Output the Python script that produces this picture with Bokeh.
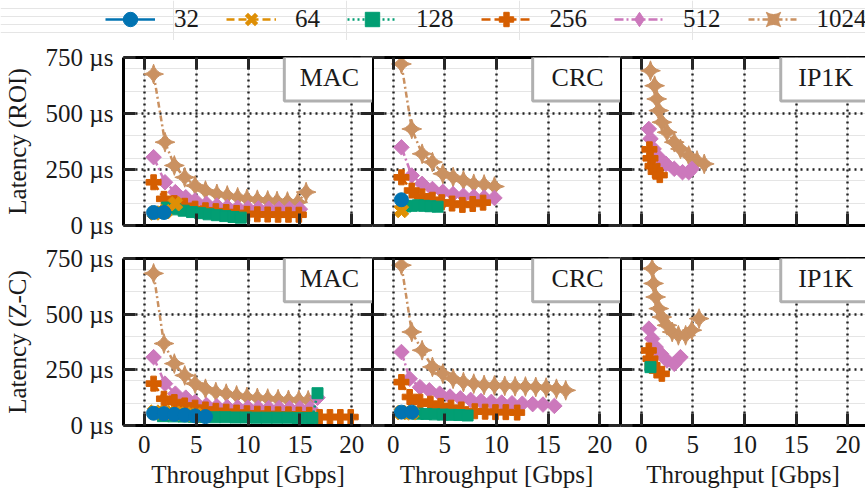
import math
from bokeh.plotting import figure
from bokeh.layouts import column, row
from bokeh.models import (LinearAxis, FixedTicker, PrintfTickFormatter, CustomJSTickFormatter,
                          Range1d, Legend, LegendItem, BoxAnnotation, Label, Grid, ColumnDataSource)
from bokeh.embed import file_html
from bokeh.resources import INLINE

# ---------------- data ----------------
series_names = ["32", "64", "128", "256", "512", "1024"]
x_ticks = [0, 5, 10, 15, 20]
y_ticks = [0, 250, 500, 750]
row_titles = ["Latency (ROI)", "Latency (Z-C)"]
panel_names = ["MAC", "CRC", "IP1K"]
x_title = "Throughput [Gbps]"

# ROI / MAC
roi_mac_x_32 = [0.9, 1.9]
roi_mac_y_32 = [58, 58]
roi_mac_x_64 = [1.0, 2.0, 3.0]
roi_mac_y_64 = [56, 62, 97]
roi_mac_x_128 = [2.2, 3.0, 3.8, 4.6, 5.4, 6.2, 7.0, 7.8, 8.6, 9.3]
roi_mac_y_128 = [80, 72, 66, 60, 55, 50, 46, 42, 38, 35]
roi_mac_x_256 = [0.9, 1.9, 2.9, 3.9, 4.9, 5.9, 6.9, 7.9, 8.9, 9.9, 10.9, 11.9, 12.9, 13.9, 14.9]
roi_mac_y_256 = [193, 119, 100, 88, 75, 68, 64, 60, 56, 52, 50, 49, 48, 48, 48]
roi_mac_x_512 = [0.9, 2.0, 3.0, 4.0, 4.9, 6.0, 7.0, 8.0, 9.0, 10.0, 11.0, 12.0, 13.0, 14.0, 15.0]
roi_mac_y_512 = [305, 193, 149, 126, 112, 97, 89, 82, 79, 77, 76, 75, 74, 74, 73]
roi_mac_x_1024 = [0.9, 2.0, 2.9, 3.9, 4.9, 5.9, 7.0, 8.0, 9.0, 9.9, 10.9, 11.9, 12.8, 13.8, 14.8, 15.6]
roi_mac_y_1024 = [676, 372, 268, 215, 178, 156, 141, 134, 126, 119, 115, 112, 109, 107, 104, 149]

# ROI / CRC
roi_crc_x_32 = [0.8]
roi_crc_y_32 = [115]
roi_crc_x_64 = [0.8]
roi_crc_y_64 = [67]
roi_crc_x_128 = [1.2, 1.8, 2.4, 3.0, 3.6, 4.3]
roi_crc_y_128 = [85, 88, 90, 88, 86, 84]
roi_crc_x_256 = [0.8, 1.8, 2.8, 3.8, 4.7, 5.7, 6.7, 7.7, 8.7]
roi_crc_y_256 = [215, 156, 130, 115, 104, 98, 92, 96, 102]
roi_crc_x_512 = [0.8, 1.8, 2.8, 3.8, 4.8, 5.8, 6.8, 7.8, 8.8, 9.8]
roi_crc_y_512 = [349, 223, 186, 163, 150, 140, 133, 128, 125, 123]
roi_crc_x_1024 = [0.8, 1.8, 2.8, 3.8, 4.8, 5.8, 6.8, 7.8, 8.8, 9.8]
roi_crc_y_1024 = [721, 431, 320, 283, 231, 216, 201, 186, 183, 174]

# ROI / IP1K
roi_ip_x_256 = [0.8, 0.9, 1.1, 1.4, 1.8]
roi_ip_y_256 = [340, 300, 265, 240, 225]
roi_ip_x_512 = [0.74, 0.9, 1.2, 1.7, 2.4, 3.2, 4.0, 4.6, 4.9]
roi_ip_y_512 = [431, 387, 342, 305, 275, 253, 238, 238, 253]
roi_ip_x_1024 = [0.9, 1.3, 1.5, 1.7, 2.0, 2.5, 3.2, 3.8, 4.6, 5.4, 6.1]
roi_ip_y_1024 = [691, 624, 565, 513, 461, 416, 372, 342, 312, 290, 275]

# Z-C / MAC
zc_mac_x_32 = [0.9, 1.9, 2.9, 3.9, 4.9, 5.9]
zc_mac_y_32 = [55, 53, 50, 47, 43, 40]
zc_mac_x_64 = [1.0, 2.0, 3.0, 4.0, 5.0]
zc_mac_y_64 = [60, 58, 55, 51, 47]
zc_mac_x_128 = [1.8, 2.8, 3.8, 4.8, 5.8, 6.8, 7.8, 8.8, 9.8, 10.8, 11.8, 12.8, 13.8, 14.8, 15.8, 16.2, 16.7]
zc_mac_y_128 = [42, 41, 40, 39, 38, 37, 37, 36, 36, 35, 35, 35, 35, 34, 34, 34, 145]
zc_mac_x_256 = [0.9, 1.9, 2.9, 3.9, 4.9, 5.9, 6.9, 7.9, 8.9, 9.9, 10.9, 11.9, 12.9, 13.9, 14.9, 15.9,
                16.9, 17.9, 18.9, 19.9]
zc_mac_y_256 = [188, 120, 105, 90, 80, 72, 66, 62, 58, 55, 53, 52, 50, 50, 49, 48, 38, 38, 38, 38]
zc_mac_x_512 = [0.9, 2.0, 3.0, 4.0, 4.9, 6.0, 7.0, 8.0, 9.0, 10.0, 11.0, 12.0, 13.0, 14.0, 15.0, 16.0, 16.7]
zc_mac_y_512 = [307, 188, 143, 125, 105, 92, 86, 83, 81, 80, 79, 78, 78, 77, 77, 77, 125]
zc_mac_x_1024 = [0.9, 1.9, 2.9, 3.9, 4.9, 5.9, 6.9, 7.9, 8.9, 9.9, 10.9, 11.9, 12.9, 13.9, 14.9, 15.8]
zc_mac_y_1024 = [683, 368, 278, 225, 188, 165, 150, 143, 135, 128, 124, 121, 118, 115, 115, 113]

# Z-C / CRC
zc_crc_x_32 = [0.8, 1.8]
zc_crc_y_32 = [60, 60]
zc_crc_x_64 = [0.8, 1.8]
zc_crc_y_64 = [58, 57]
zc_crc_x_128 = [1.6, 2.4, 3.2, 4.0, 4.8, 5.6, 6.4, 7.2]
zc_crc_y_128 = [55, 53, 52, 50, 49, 48, 47, 45]
zc_crc_x_256 = [0.8, 1.6, 2.6, 3.6, 4.6, 5.6, 6.6, 7.9, 8.9, 9.9, 10.9, 12.0]
zc_crc_y_256 = [195, 128, 107, 98, 88, 80, 72, 64, 62, 60, 60, 58]
zc_crc_x_512 = [0.8, 1.6, 2.6, 3.5, 4.5, 5.5, 6.5, 7.5, 8.5, 9.5, 10.5, 11.5, 12.5, 13.5, 14.5, 15.6]
zc_crc_y_512 = [330, 210, 172, 158, 143, 130, 122, 115, 110, 106, 103, 100, 98, 96, 94, 88]
zc_crc_x_1024 = [0.8, 1.8, 2.8, 3.8, 4.8, 5.8, 6.8, 7.8, 8.8, 9.8, 10.8, 11.8, 12.8, 13.8, 14.8, 15.8, 16.7]
zc_crc_y_1024 = [720, 420, 338, 263, 233, 210, 195, 188, 182, 180, 178, 176, 175, 173, 170, 165, 158]

# Z-C / IP1K
zc_ip_x_128 = [0.9]
zc_ip_y_128 = [262]
zc_ip_x_256 = [0.74, 0.9, 1.1, 1.5, 2.0]
zc_ip_y_256 = [337, 300, 270, 247, 232]
zc_ip_x_512 = [0.75, 1.06, 1.4, 1.9, 2.5, 3.2, 3.8]
zc_ip_y_512 = [435, 390, 352, 322, 292, 277, 307]
zc_ip_x_1024 = [1.06, 1.2, 1.4, 1.7, 2.0, 2.5, 3.0, 3.6, 4.3, 4.9, 5.6]
zc_ip_y_1024 = [705, 638, 577, 525, 487, 450, 420, 405, 405, 428, 480]

panels = [
    [  # ROI row
        {"32": (roi_mac_x_32, roi_mac_y_32), "64": (roi_mac_x_64, roi_mac_y_64),
         "128": (roi_mac_x_128, roi_mac_y_128), "256": (roi_mac_x_256, roi_mac_y_256),
         "512": (roi_mac_x_512, roi_mac_y_512), "1024": (roi_mac_x_1024, roi_mac_y_1024)},
        {"32": (roi_crc_x_32, roi_crc_y_32), "64": (roi_crc_x_64, roi_crc_y_64),
         "128": (roi_crc_x_128, roi_crc_y_128), "256": (roi_crc_x_256, roi_crc_y_256),
         "512": (roi_crc_x_512, roi_crc_y_512), "1024": (roi_crc_x_1024, roi_crc_y_1024)},
        {"256": (roi_ip_x_256, roi_ip_y_256), "512": (roi_ip_x_512, roi_ip_y_512),
         "1024": (roi_ip_x_1024, roi_ip_y_1024)},
    ],
    [  # Z-C row
        {"32": (zc_mac_x_32, zc_mac_y_32), "64": (zc_mac_x_64, zc_mac_y_64),
         "128": (zc_mac_x_128, zc_mac_y_128), "256": (zc_mac_x_256, zc_mac_y_256),
         "512": (zc_mac_x_512, zc_mac_y_512), "1024": (zc_mac_x_1024, zc_mac_y_1024)},
        {"32": (zc_crc_x_32, zc_crc_y_32), "64": (zc_crc_x_64, zc_crc_y_64),
         "128": (zc_crc_x_128, zc_crc_y_128), "256": (zc_crc_x_256, zc_crc_y_256),
         "512": (zc_crc_x_512, zc_crc_y_512), "1024": (zc_crc_x_1024, zc_crc_y_1024)},
        {"128": (zc_ip_x_128, zc_ip_y_128), "256": (zc_ip_x_256, zc_ip_y_256),
         "512": (zc_ip_x_512, zc_ip_y_512), "1024": (zc_ip_x_1024, zc_ip_y_1024)},
    ],
]

# ---------------- styles ----------------
FONT = "Liberation Serif"
FS = "25px"
TXT = "#1a1a1a"
STYLE = {
    "32":   dict(color="#0173B2", dash="solid",   marker="circle",     size=14, angle=0.0),
    "64":   dict(color="#DE8F05", dash="8 4",     marker="plus",       size=15, angle=math.pi / 4),
    "128":  dict(color="#029E73", dash="2 3",     marker="square",     size=11, angle=0.0),
    "256":  dict(color="#D55E00", dash="9 4",     marker="plus",       size=15, angle=0.0),
    "512":  dict(color="#CC78BC", dash="9 3 2 3", marker="square",     size=11, angle=math.pi / 4),
    "1024": dict(color="#CA9161", dash="6 3 2 3", marker="square_pin", size=14, angle=math.pi / 4),
}
# the legend cannot rotate markers, so it uses equivalent unrotated shapes
LEGEND_MARKER = {
    "32": ("circle", 1), "64": ("x", 4.5), "128": ("square", 1),
    "256": ("plus", 1), "512": ("diamond", 1), "1024": ("square_pin", 1),
}
LW = 2.5

COL_W = [372, 248, 245]
COL_LEFT = [123, 0, 0]
X_END = [22.0, 22.0, 21.7]
ROW_H = [202, 249]
ROW_TOP = [17, 16]
ROW_BOTTOM = [17, 66]


def style_axis(ax, labels, ticks):
    ax.ticker = FixedTicker(ticks=ticks)
    ax.axis_line_color = "black"
    ax.axis_line_width = 3
    ax.major_tick_in = 12
    ax.major_tick_out = 0
    ax.major_tick_line_width = 3
    ax.major_tick_line_color = "#262626"
    ax.minor_tick_line_color = None
    if labels:
        ax.major_label_text_font = FONT
        ax.major_label_text_font_size = FS
        ax.major_label_text_color = TXT
        ax.axis_label_text_font = FONT
        ax.axis_label_text_font_size = FS
        ax.axis_label_text_font_style = "normal"
        ax.axis_label_text_color = TXT
    else:
        ax.major_label_text_font_size = "0px"
        ax.major_label_standoff = 0
        ax.formatter = CustomJSTickFormatter(code="return ''")


def make_panel(r, c):
    p = figure(width=COL_W[c], height=ROW_H[r],
               x_range=Range1d(-2, X_END[c]), y_range=Range1d(0, 750),
               x_axis_location=None, y_axis_location=None,
               toolbar_location=None, output_backend="svg",
               min_border_left=COL_LEFT[c], min_border_right=0,
               min_border_top=ROW_TOP[r], min_border_bottom=ROW_BOTTOM[r],
               outline_line_color=None, background_fill_color="white",
               border_fill_color="white")
    # grids
    p.add_layout(Grid(dimension=0, ticker=FixedTicker(ticks=x_ticks), grid_line_color="#222222",
                      grid_line_width=2.4, grid_line_dash="2 4"))
    p.add_layout(Grid(dimension=1, ticker=FixedTicker(ticks=y_ticks), grid_line_color="#222222",
                      grid_line_width=2.4, grid_line_dash="2 4"))

    # label box (top-right, open toward the frame edges)
    p.add_layout(BoxAnnotation(left=13.5, bottom=556, top=900, right=40, fill_color="white", fill_alpha=1,
                               line_color="#b0b0b0", line_alpha=1, line_width=3))
    p.add_layout(Label(x=17.85, y=662, text=panel_names[c], text_align="center", text_baseline="middle",
                       text_font=FONT, text_font_size="26px", text_color=TXT))

    # axes
    below = LinearAxis()
    style_axis(below, r == 1, x_ticks)
    if r == 1:
        below.axis_label = x_title
        below.major_label_standoff = 10
        below.axis_label_standoff = 5
    p.add_layout(below, "below")
    above = LinearAxis()
    style_axis(above, False, x_ticks)
    p.add_layout(above, "above")
    left = LinearAxis()
    style_axis(left, c == 0, y_ticks)
    if c == 0:
        left.axis_label = row_titles[r]
        left.formatter = PrintfTickFormatter(format="%d µs")
        left.major_label_standoff = 10
        left.axis_label_standoff = 12
    p.add_layout(left, "left")
    if c < 2:
        right = LinearAxis()
        style_axis(right, False, y_ticks)
        p.add_layout(right, "right")

    data = panels[r][c]
    for name in reversed(series_names):
        if name not in data:
            continue
        xs, ys = data[name]
        st = STYLE[name]
        src = ColumnDataSource(dict(x=xs, y=ys))
        p.line("x", "y", source=src, line_color=st["color"], line_width=LW, line_dash=st["dash"])
        p.scatter("x", "y", source=src, marker=st["marker"], size=st["size"], angle=st["angle"],
                  fill_color=st["color"], line_color=st["color"], line_width=1)
    return p


rows = []
for r in range(2):
    rows.append(row(*[make_panel(r, c) for c in range(3)], spacing=0))

# legend strip (one off-screen sample point per series so the legend can draw its glyphs)
lf = figure(width=865, height=40, x_range=Range1d(0, 1), y_range=Range1d(0, 1),
            x_axis_location=None, y_axis_location=None, toolbar_location=None,
            output_backend="svg", min_border=0, outline_line_color=None)
items = []
for name in series_names:
    st = STYLE[name]
    mk, mlw = LEGEND_MARKER[name]
    src = ColumnDataSource(dict(x=[-10, -11], y=[-10, -10]))
    lr = lf.line("x", "y", source=src, line_color=st["color"], line_width=LW, line_dash=st["dash"])
    sr = lf.scatter("x", "y", source=src, marker=mk, size=st["size"],
                    fill_color=st["color"], line_color=st["color"], line_width=mlw)
    items.append(LegendItem(label=name, renderers=[lr, sr]))
leg = Legend(items=items, orientation="horizontal", location=(105, 3),
             glyph_width=50, glyph_height=36, label_standoff=19, spacing=27,
             padding=0, margin=0, border_line_color=None, background_fill_alpha=0,
             label_text_font=FONT, label_text_font_size=FS, label_text_color=TXT)
lf.add_layout(leg, "center")

layout = column(lf, rows[0], rows[1], spacing=0)
open("out.html", "w").write(file_html(layout, INLINE))
